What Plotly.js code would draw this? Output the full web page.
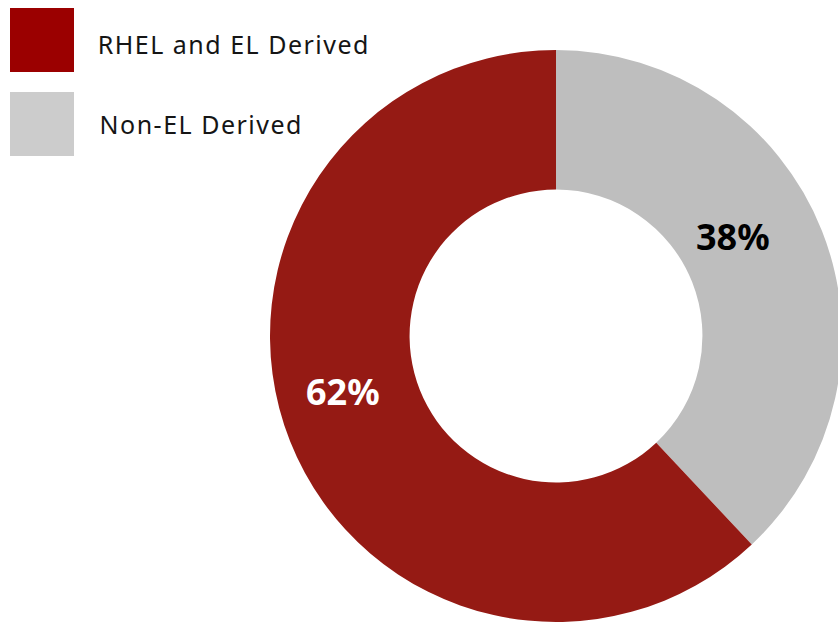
<!DOCTYPE html>
<html>
<head>
<meta charset="utf-8">
<script src="https://cdn.plot.ly/plotly-3.0.1.min.js"></script>
<style>
html,body{margin:0;padding:0;overflow:hidden;background:#fff;width:838px;height:623px;}
#chart{width:860px;height:623px;}
.annotation[data-index="0"] text, .annotation[data-index="2"] text { letter-spacing: 1.5px; }
</style>
</head>
<body>
<div id="chart"></div>
<script>
var categories = ["RHEL and EL Derived", "Non-EL Derived"];
var values = [62, 38];
var sliceColors = ["#951A14", "#BEBEBE"];
var legendColors = ["#9B0000", "#CCCCCC"];
var labelColors = ["#FFFFFF", "#000000"];

var W = 860, H = 623;
function px(x){ return x / W; }
function py(y){ return 1 - y / H; }

var total = values.reduce(function(a,b){return a+b;}, 0);
var pctText = values.map(function(v){ return Math.round(100 * v / total) + "%"; });

// Plotly lays the first slice clockwise from the top; reverse so the
// first category sweeps counterclockwise (left side) as in the reference.
var trace = {
  type: "pie",
  labels: categories.slice().reverse(),
  values: values.slice().reverse(),
  hole: 0.512,
  sort: false,
  direction: "counterclockwise",
  rotation: 0,
  textinfo: "none",
  hoverinfo: "label+percent",
  marker: { colors: sliceColors.slice().reverse(), line: { width: 0 } },
  domain: { x: [px(270), px(842)], y: [py(622), py(50)] },
  showlegend: false
};

var legendRows = [40, 124];
var legendTextY = [44, 124];
var legendShift = [12, 10];
var labelPos = [[343, 391], [733, 237]];

var shapes = [];
var annotations = [];
categories.forEach(function(c, i){
  shapes.push({
    type: "rect", xref: "paper", yref: "paper",
    x0: px(10), x1: px(74), y0: py(legendRows[i] - 32), y1: py(legendRows[i] + 32),
    fillcolor: legendColors[i], line: { width: 0 }
  });
  annotations.push({
    xref: "paper", yref: "paper", x: px(98), y: py(legendTextY[i]),
    xanchor: "left", yanchor: "middle", showarrow: false, xshift: legendShift[i],
    text: c, font: { family: "Noto Sans", size: 25, color: "#151515" }
  });
  annotations.push({
    xref: "paper", yref: "paper", x: px(labelPos[i][0]), y: py(labelPos[i][1]),
    xanchor: "center", yanchor: "middle", showarrow: false,
    text: "<b>" + pctText[i] + "</b>",
    font: { family: "Noto Sans", size: 36, color: labelColors[i] }
  });
});

var layout = {
  width: W, height: H,
  margin: { l: 0, r: 0, t: 0, b: 0 },
  paper_bgcolor: "#ffffff",
  shapes: shapes,
  annotations: annotations,
  showlegend: false
};

Plotly.newPlot("chart", [trace], layout, { displayModeBar: false, staticPlot: true });
</script>
</body>
</html>
